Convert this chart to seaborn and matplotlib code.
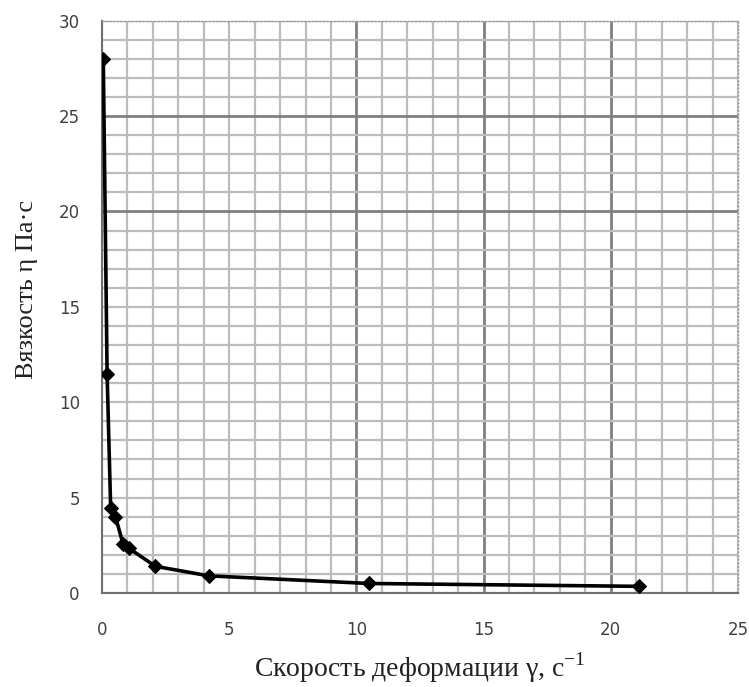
import numpy as np
import pandas as pd
import matplotlib
matplotlib.use('Agg')
import matplotlib.pyplot as plt
import seaborn as sns

# данные
shear_rate = [0.05, 0.2, 0.34, 0.53, 0.83, 1.05, 2.1, 4.2, 10.5, 21.1]
viscosity = [28.0, 11.5, 4.45, 4.0, 2.55, 2.35, 1.4, 0.9, 0.5, 0.35]

x_ticks = [0, 5, 10, 15, 20, 25]
y_ticks = [0, 5, 10, 15, 20, 25, 30]

df = pd.DataFrame({'rate': shear_rate, 'eta': viscosity})

sns.set_style('white')
plt.rcParams['font.family'] = ['DejaVu Sans']

fig = plt.figure(figsize=(7.49, 6.87), dpi=100)
ax = fig.add_axes([0.1362, 0.1368, 0.8491, 0.8331])

# сетка как на миллиметровке
for v in range(0, 26):
    dark = v in (10, 15, 20)
    ax.axvline(v, color='#808080' if dark else '#bcbcbc', lw=2 if dark else 1.6, zorder=0)
for v in range(0, 31):
    dark = v in (20, 25)
    ax.axhline(v, color='#808080' if dark else '#bcbcbc', lw=2 if dark else 1.6, zorder=0)

sns.lineplot(data=df, x='rate', y='eta', ax=ax, color='black', lw=2.6,
             marker='D', markersize=7, markeredgecolor='black', zorder=3)

ax.set_xlim(0, 25)
ax.set_ylim(0, 30)
ax.set_xticks(x_ticks)
ax.set_yticks(y_ticks)
ax.tick_params(axis='x', direction='out', length=5, width=1, color='#888888',
               labelsize=12, labelcolor='#404040', pad=15)
ax.tick_params(axis='y', direction='out', length=5, width=1, color='#888888',
               labelsize=12, labelcolor='#404040', pad=11)

for side in ['left', 'bottom']:
    ax.spines[side].set_color('#707070')
    ax.spines[side].set_linewidth(1.5)
for side in ['top', 'right']:
    ax.spines[side].set_color('#999999')
    ax.spines[side].set_linestyle(':')
    ax.spines[side].set_linewidth(1)

ax.set_xlabel('Скорость деформации γ, с$^{\\mathregular{-1}}$', fontsize=20,
              family=['Liberation Serif', 'DejaVu Serif'], color='#222222')
ax.set_ylabel('Вязкость η Па·с', fontsize=19,
              family=['Liberation Serif', 'DejaVu Serif'], color='#222222')
ax.xaxis.set_label_coords(0.5, -0.100)
ax.yaxis.set_label_coords(-0.10, 0.53)

fig.savefig('out.png', dpi=100)
